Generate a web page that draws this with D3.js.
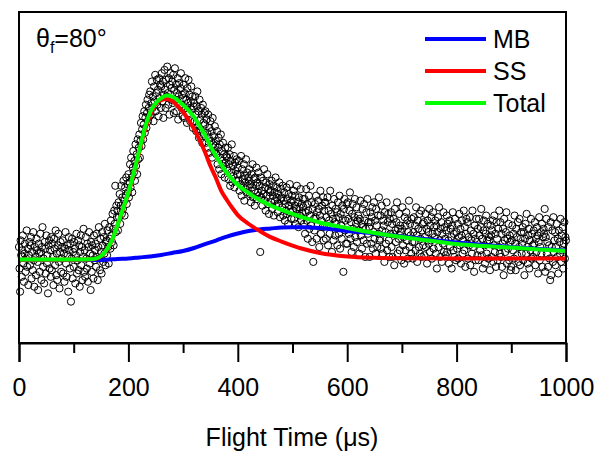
<!DOCTYPE html>
<html><head><meta charset="utf-8">
<script src="https://cdn.jsdelivr.net/npm/d3@7/dist/d3.min.js"></script>
<style>body{margin:0;background:#fff;} text{font-family:"Liberation Sans",Arial,sans-serif;}</style>
</head><body><svg id="c" width="597" height="454"></svg>
<script>
// ---- data ----
const xTicks = [0, 200, 400, 600, 800, 1000];
const xMinorTicks = [100, 300, 500, 700, 900];
const scatterStep = 1; // µs between samples
const scatterY = [
8,-5,-19,12,3,-10,6,15,-2,-13,4,10,-7,1,18,-4,7,-15,3,11,
-3,9,14,-11,5,-6,17,0,-16,8,2,-9,13,6,-1,-18,10,4,-7,16,
5,-12,8,20,-4,1,-14,11,7,-8,15,-2,3,-20,9,12,-5,6,-10,14,
-6,10,2,-15,13,7,-3,18,-9,4,-12,9,16,-1,-17,5,11,-7,1,8,
12,-8,4,-13,7,17,-2,-10,9,3,-19,14,6,-5,10,-25,1,13,-11,5,
-4,11,7,-14,3,16,-8,0,12,-6,9,-16,5,15,-3,8,-12,2,19,-7,
6,-10,14,1,-5,10,-13,8,17,-2,4,-18,11,-7,9,3,-11,15,0,6,
10,-4,16,2,-12,8,20,1,-6,13,5,-8,17,9,-1,14,4,22,-3,11,
12,3,18,8,-2,20,13,7,24,15,11,28,19,9,30,22,45,17,33,26,
30,18,35,26,40,22,33,45,28,38,31,48,36,27,44,39,50,34,46,41,
52,38,47,58,44,62,50,41,56,66,53,60,48,70,57,64,52,73,61,68,
76,62,72,83,69,79,87,73,82,90,77,86,94,80,89,97,84,92,100,87,
102,88,95,108,92,99,84,105,96,112,90,101,109,94,103,87,110,98,106,92,
105,113,96,108,86,100,115,103,92,109,99,117,101,94,110,88,106,113,97,104,
108,95,112,89,103,116,97,106,90,101,110,85,99,107,94,104,113,92,100,87,
98,106,86,101,110,92,97,83,104,95,109,89,100,84,96,105,91,99,80,93,
95,84,99,88,78,93,102,81,90,74,97,85,79,92,88,71,94,83,76,89,
82,90,71,85,77,68,88,74,80,65,84,72,78,62,86,70,75,66,81,69,
72,64,78,58,68,74,55,70,62,76,52,66,60,71,57,64,50,68,59,63,
62,55,68,49,58,64,45,60,53,70,47,57,51,63,44,59,54,48,61,52,
56,48,60,42,52,46,63,39,55,49,44,58,36,51,47,61,41,53,45,50,
48,55,40,46,35,52,44,58,38,49,42,33,50,45,56,37,47,41,53,39,
45,5,50,38,42,33,48,40,55,36,44,30,47,39,52,34,43,28,46,41,
42,35,48,31,39,45,27,41,36,50,33,38,44,29,40,34,47,26,37,43,
38,32,45,27,36,41,24,34,30,44,28,37,22,40,33,46,29,35,25,39,
36,30,42,25,33,39,22,31,45,28,35,20,38,32,27,43,24,34,29,37,
32,22,37,16,29,43,24,34,13,30,39,19,27,45,21,35,11,31,-1,25,
18,34,26,39,13,29,21,36,31,8,27,42,16,24,33,20,38,12,30,35,
35,13,26,21,38,9,30,24,16,42,20,28,5,33,25,12,37,23,15,31,
22,29,9,35,26,16,39,7,28,21,13,33,25,-7,31,37,18,24,10,34,
10,35,25,16,30,41,13,23,5,28,34,19,8,26,37,14,22,32,11,24,
27,18,4,25,36,15,22,7,31,20,12,34,24,2,19,29,10,37,16,23,
20,2,29,23,10,26,32,7,17,35,13,24,4,31,21,8,27,16,38,12,
13,27,7,33,18,4,24,21,-1,29,17,10,35,6,23,28,12,2,25,16,
29,8,22,2,16,25,-3,31,18,11,23,35,4,19,13,28,6,21,17,0,
19,32,9,14,-2,26,21,6,29,12,24,1,17,36,8,22,15,4,25,11,
1,17,26,11,21,6,32,15,-1,24,19,8,28,4,13,30,2,18,22,9,
23,3,14,28,8,19,-2,24,17,10,31,5,21,12,26,1,16,29,7,20,
14,24,4,21,-5,17,26,8,32,12,2,19,23,-1,16,10,29,5,20,13,
3,18,27,5,22,12,-2,24,8,19,14,-5,21,29,6,16,2,25,11,0,
17,7,22,1,14,28,9,19,-2,15,24,4,12,30,6,20,-4,16,25,10,
23,1,14,9,26,-3,18,12,4,30,8,16,-7,21,13,0,25,11,3,19,
0,25,15,6,20,31,3,13,-5,18,24,9,-2,16,27,4,12,22,1,14,
12,-6,21,15,2,18,24,-1,9,27,5,16,-4,23,13,0,19,8,30,4,
23,2,16,-4,10,19,-9,25,12,5,17,29,-2,13,7,22,0,15,11,-6,
-4,12,21,6,16,1,27,10,-6,19,14,3,23,-1,8,25,-3,13,17,4,
10,20,0,17,-9,13,22,4,28,8,-2,15,19,-5,12,6,25,1,16,9,
2,18,10,23,-3,13,5,20,15,-8,11,26,0,8,17,4,22,-4,14,19,
16,31,-7,14,25,4,11,-4,20,9,1,-12,23,-9,8,18,-1,26,5,12,
17,-3,8,22,2,13,-8,18,11,4,25,-1,15,6,20,-5,10,23,1,14,
12];

const totalT = [0,100,130,140,150,160,170,180,190,200,210,220,230,240,250,260,270,280,290,300,310,320,330,340,350,360,370,380,390,400,420,440,460,480,500,550,600,650,700,750,800,850,900,950,1000];
const totalY = [0.5,0.5,0.6,1.0,2.6,6.2,12.2,21.3,31.0,41.2,53.3,66.6,79.9,89.6,95.0,98.0,99.5,98.9,96.8,93.8,90.5,86.6,81.1,75.7,69.0,63.0,57.6,52.7,48.8,45.5,40.6,36.4,33.1,30.4,28.0,22.8,19.5,16.5,14.0,11.9,9.8,8.6,7.7,6.5,5.6];

const ssT = [0,100,130,140,150,160,170,180,190,200,210,220,230,240,250,260,270,280,290,300,310,320,330,340,350,360,370,380,390,400,420,440,460,480,500,520,550,600,650,700,800,900,1000];
const ssY = [0.3,0.3,0.4,0.8,2.4,6.0,12.0,21.0,30.5,40.5,52.5,65.5,78.5,88.0,94.4,96.8,97.4,96.2,93.2,89.6,84.7,79.3,72.7,65.4,56.9,49.7,41.8,36.4,31.6,27.3,21.9,17.7,14.0,11.3,8.9,6.8,4.4,2.3,1.5,1.2,1.0,1.0,1.0];

const mbT = [0,150,160,180,200,220,240,260,280,300,320,340,360,380,400,420,440,460,480,500,520,550,600,650,700,750,800,850,900,950,1000];
const mbY = [0.2,0.2,0.3,0.8,1.1,1.7,2.3,3.2,4.4,5.6,7.4,9.8,11.9,14.3,16.2,17.7,18.6,19.2,19.8,20.0,20.0,19.5,17.7,16.2,14.3,12.5,10.7,9.2,8.0,6.8,5.9];

const legendNames = ["MB", "SS", "Total"];
const colors = {MB: "#0000ff", SS: "#ff0000", Total: "#00ff00"};

// ---- chart ----
const svg = d3.select("#c");
const x = d3.scaleLinear().domain([0, 1000]).range([19, 566]);
const y = d3.scaleLinear().domain([-50, 150]).range([343, 12]);

// scatter
const pts = scatterY.map((v, i) => ({t: i * scatterStep, v}));
svg.append("g").selectAll("circle").data(pts).join("circle")
  .attr("cx", d => x(d.t)).attr("cy", d => y(d.v)).attr("r", 3.6)
  .attr("fill", "none").attr("stroke", "#000").attr("stroke-width", 1);

const line = d3.line().x(d => x(d[0])).y(d => y(d[1])).curve(d3.curveMonotoneX);
const series = [
  {name: "MB", t: mbT, v: mbY},
  {name: "SS", t: ssT, v: ssY},
  {name: "Total", t: totalT, v: totalY}
];
series.forEach(s => {
  svg.append("path").datum(s.t.map((t, i) => [t, s.v[i]]))
    .attr("d", line).attr("fill", "none").attr("stroke", colors[s.name])
    .attr("stroke-width", 4).attr("stroke-linejoin", "round");
});

// frame
svg.append("rect").attr("x", 19).attr("y", 12).attr("width", 547).attr("height", 331)
  .attr("fill", "none").attr("stroke", "#000").attr("stroke-width", 2);

// x axis
const axis = svg.append("g").attr("transform", "translate(0,343)")
  .call(d3.axisBottom(x).tickValues(xTicks).tickSize(19).tickPadding(16).tickFormat(d3.format("d")));
axis.select(".domain").attr("stroke-width", 2);
axis.selectAll(".tick line").attr("stroke-width", 2);
axis.selectAll("text").attr("font-size", 25).attr("font-family", "Liberation Sans, Arial, sans-serif").attr("fill", "#000");
svg.append("g").attr("transform", "translate(0,343)")
  .call(d3.axisBottom(x).tickValues(xMinorTicks).tickSize(10).tickFormat(""))
  .call(g => g.select(".domain").remove())
  .selectAll(".tick line").attr("stroke-width", 2);

// axis title
const title = svg.append("text").attr("x", 292).attr("y", 446).attr("text-anchor", "middle")
  .attr("font-size", 25).attr("fill", "#000");
title.append("tspan").text("Flight Time (");
title.append("tspan").text("μ");
title.append("tspan").text("s)");

// theta label
const th = svg.append("text").attr("x", 36).attr("y", 47).attr("font-size", 25).attr("fill", "#000");
th.append("tspan").text("θ");
th.append("tspan").text("f").attr("font-size", 16).attr("dy", 6);
th.append("tspan").text("=80°").attr("dy", -6);

// legend
legendNames.forEach((n, i) => {
  const yy = 39 + i * 32;
  svg.append("line").attr("x1", 425).attr("x2", 486).attr("y1", yy).attr("y2", yy)
    .attr("stroke", colors[n]).attr("stroke-width", 4);
  svg.append("text").attr("x", 493).attr("y", yy + 8.5).attr("font-size", 25).attr("fill", "#000").text(n);
});
</script></body></html>
